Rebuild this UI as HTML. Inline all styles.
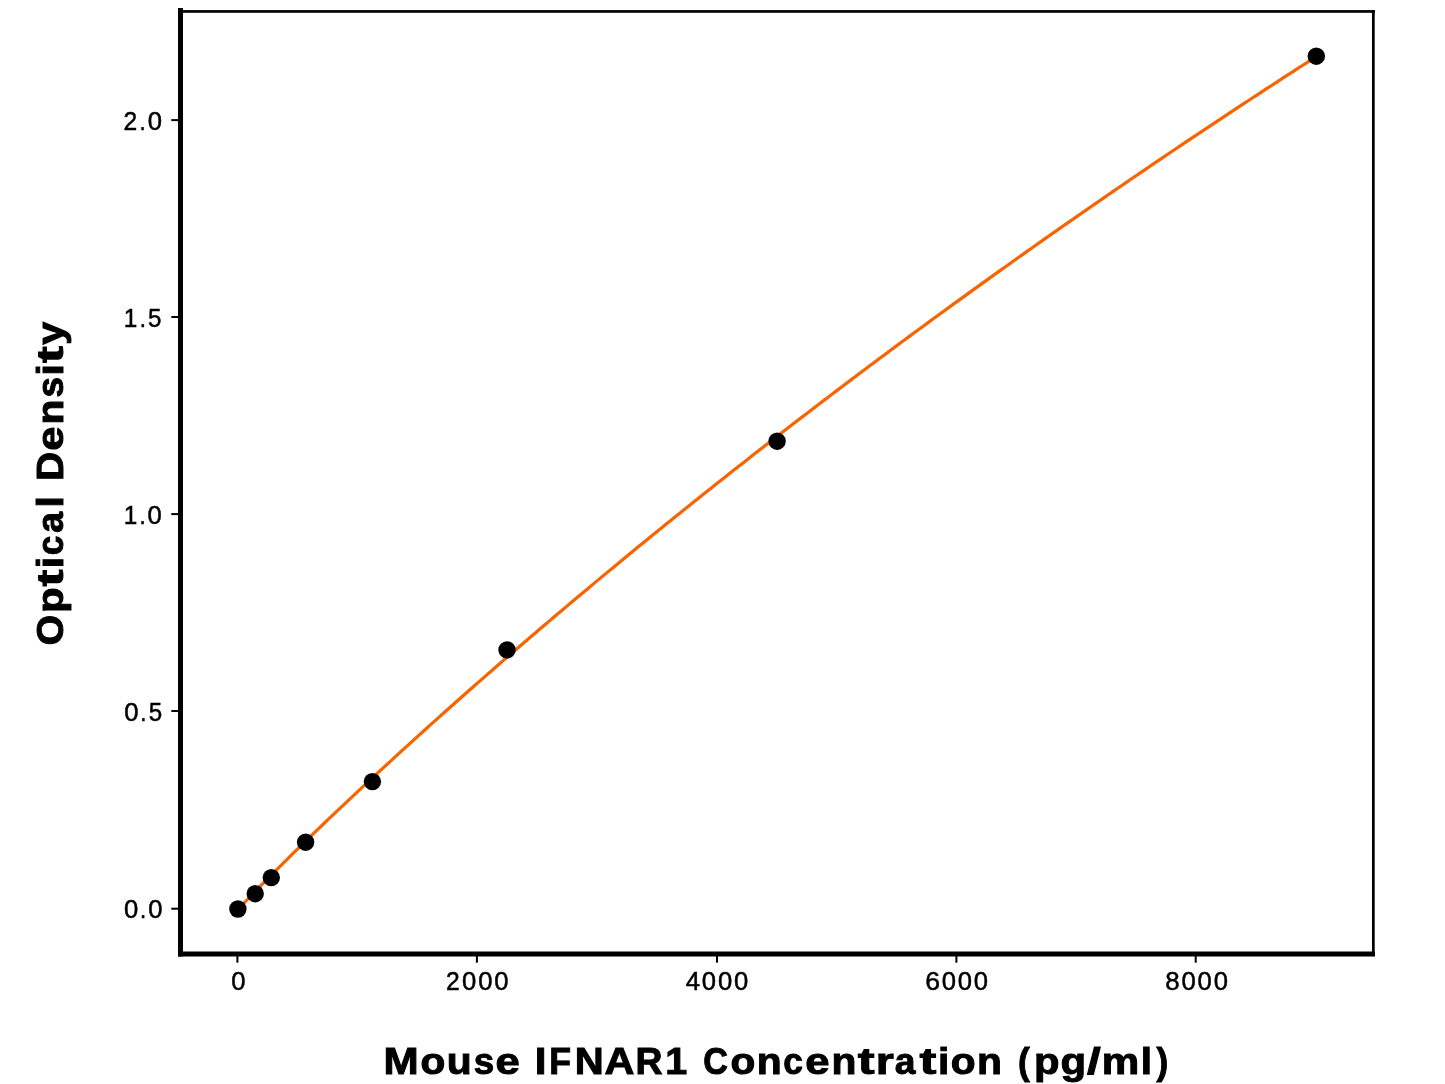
<!DOCTYPE html>
<html><head><meta charset="utf-8"><title>Mouse IFNAR1 standard curve</title><style>
html,body{margin:0;padding:0;background:#fff;width:1445px;height:1084px;overflow:hidden}
svg{display:block;will-change:transform}
text{font-family:"Liberation Sans",sans-serif;font-size:100px;fill:#000;stroke:#000}
.b text{font-weight:bold}
</style></head><body>
<svg width="1445" height="1084" viewBox="0 0 1445 1084">
<rect x="0" y="0" width="1445" height="1084" fill="#fff"/>
<g fill="#000">
<rect x="178" y="10.1" width="1197" height="2.7"/>
<rect x="1372" y="10.1" width="2.7" height="946"/>
<rect x="178" y="951.5" width="1197" height="5"/>
<rect x="178" y="8" width="5" height="948.5"/>
<rect x="171.3" y="907.70" width="9" height="2"/>
<rect x="171.3" y="710.00" width="9" height="2"/>
<rect x="171.3" y="513.10" width="9" height="2"/>
<rect x="171.3" y="316.00" width="9" height="2"/>
<rect x="171.3" y="119.10" width="9" height="2"/>
<rect x="236.40" y="954" width="2" height="8.7"/>
<rect x="475.90" y="954" width="2" height="8.7"/>
<rect x="716.00" y="954" width="2" height="8.7"/>
<rect x="955.40" y="954" width="2" height="8.7"/>
<rect x="1194.70" y="954" width="2" height="8.7"/>
</g>
<g>
<text y="0" transform="matrix(0.25338 0 0 0.25565 0 918.400)" stroke-width="1.965"><tspan x="489.30" textLength="56.31" lengthAdjust="spacingAndGlyphs">0</tspan><tspan x="552.98" textLength="24.29" lengthAdjust="spacingAndGlyphs">.</tspan><tspan x="584.68" textLength="56.31" lengthAdjust="spacingAndGlyphs">0</tspan></text>
<text y="0" transform="matrix(0.24654 0 0 0.25988 0 720.596)" stroke-width="1.975"><tspan x="503.57" textLength="57.87" lengthAdjust="spacingAndGlyphs">0</tspan><tspan x="569.01" textLength="24.97" lengthAdjust="spacingAndGlyphs">.</tspan><tspan x="602.90" textLength="54.47" lengthAdjust="spacingAndGlyphs">5</tspan></text>
<text y="0" transform="matrix(0.24760 0 0 0.25988 0 523.696)" stroke-width="1.971"><tspan x="499.54" textLength="54.68" lengthAdjust="spacingAndGlyphs">1</tspan><tspan x="563.65" textLength="24.86" lengthAdjust="spacingAndGlyphs">.</tspan><tspan x="596.09" textLength="57.63" lengthAdjust="spacingAndGlyphs">0</tspan></text>
<text y="0" transform="matrix(0.24041 0 0 0.25988 0 326.796)" stroke-width="1.999"><tspan x="515.17" textLength="56.31" lengthAdjust="spacingAndGlyphs">1</tspan><tspan x="581.20" textLength="25.61" lengthAdjust="spacingAndGlyphs">.</tspan><tspan x="615.95" textLength="55.86" lengthAdjust="spacingAndGlyphs">5</tspan></text>
<text y="0" transform="matrix(0.24882 0 0 0.25988 0 129.796)" stroke-width="1.966"><tspan x="496.10" textLength="55.07" lengthAdjust="spacingAndGlyphs">2</tspan><tspan x="561.14" textLength="24.74" lengthAdjust="spacingAndGlyphs">.</tspan><tspan x="593.43" textLength="57.34" lengthAdjust="spacingAndGlyphs">0</tspan></text>
<text y="0" transform="matrix(0.25655 0 0 0.25988 0 990.496)" stroke-width="1.936"><tspan x="901.82" textLength="55.62" lengthAdjust="spacingAndGlyphs">0</tspan></text>
<text y="0" transform="matrix(0.25410 0 0 0.25988 0 990.496)" stroke-width="1.946"><tspan x="1754.98" textLength="53.93" lengthAdjust="spacingAndGlyphs">2</tspan><tspan x="1818.60" textLength="56.15" lengthAdjust="spacingAndGlyphs">0</tspan><tspan x="1882.02" textLength="56.15" lengthAdjust="spacingAndGlyphs">0</tspan><tspan x="1945.44" textLength="56.15" lengthAdjust="spacingAndGlyphs">0</tspan></text>
<text y="0" transform="matrix(0.25670 0 0 0.25988 0 990.496)" stroke-width="1.936"><tspan x="2670.96" textLength="55.71" lengthAdjust="spacingAndGlyphs">4</tspan><tspan x="2733.82" textLength="55.58" lengthAdjust="spacingAndGlyphs">0</tspan><tspan x="2796.60" textLength="55.58" lengthAdjust="spacingAndGlyphs">0</tspan><tspan x="2859.38" textLength="55.58" lengthAdjust="spacingAndGlyphs">0</tspan></text>
<text y="0" transform="matrix(0.25873 0 0 0.25988 0 990.496)" stroke-width="1.928"><tspan x="3576.23" textLength="57.07" lengthAdjust="spacingAndGlyphs">6</tspan><tspan x="3639.47" textLength="55.15" lengthAdjust="spacingAndGlyphs">0</tspan><tspan x="3701.76" textLength="55.15" lengthAdjust="spacingAndGlyphs">0</tspan><tspan x="3764.04" textLength="55.15" lengthAdjust="spacingAndGlyphs">0</tspan></text>
<text y="0" transform="matrix(0.25722 0 0 0.25988 0 990.496)" stroke-width="1.934"><tspan x="4530.17" textLength="56.05" lengthAdjust="spacingAndGlyphs">8</tspan><tspan x="4593.12" textLength="55.47" lengthAdjust="spacingAndGlyphs">0</tspan><tspan x="4655.77" textLength="55.47" lengthAdjust="spacingAndGlyphs">0</tspan><tspan x="4718.43" textLength="55.47" lengthAdjust="spacingAndGlyphs">0</tspan></text>
</g>
<polyline points="237.40,910.35 241.91,905.33 246.43,900.52 250.94,895.79 255.46,891.12 259.97,886.49 264.49,881.90 269.00,877.34 273.51,872.80 278.03,868.29 282.54,863.81 287.06,859.34 291.57,854.90 296.08,850.47 300.60,846.06 305.11,841.67 309.63,837.29 314.14,832.93 318.66,828.59 323.17,824.26 327.68,819.94 332.20,815.64 336.71,811.35 341.23,807.07 345.74,802.81 350.26,798.56 354.77,794.32 359.28,790.09 363.80,785.87 368.31,781.67 372.83,777.48 377.34,773.29 381.86,769.12 386.37,764.96 390.88,760.81 395.40,756.67 399.91,752.54 404.43,748.42 408.94,744.31 413.45,740.22 417.97,736.13 422.48,732.05 427.00,727.98 431.51,723.92 436.03,719.86 440.54,715.82 445.05,711.79 449.57,707.77 454.08,703.75 458.60,699.75 463.11,695.75 467.63,691.76 472.14,687.78 476.65,683.81 481.17,679.85 485.68,675.89 490.20,671.95 494.71,668.01 499.23,664.08 503.74,660.16 508.25,656.25 512.77,652.34 517.28,648.45 521.80,644.56 526.31,640.68 530.82,636.81 535.34,632.94 539.85,629.08 544.37,625.24 548.88,621.39 553.40,617.56 557.91,613.73 562.42,609.92 566.94,606.10 571.45,602.30 575.97,598.50 580.48,594.72 585.00,590.93 589.51,587.16 594.02,583.39 598.54,579.63 603.05,575.88 607.57,572.13 612.08,568.40 616.59,564.66 621.11,560.94 625.62,557.22 630.14,553.51 634.65,549.81 639.17,546.11 643.68,542.42 648.19,538.74 652.71,535.06 657.22,531.40 661.74,527.73 666.25,524.08 670.77,520.43 675.28,516.79 679.79,513.15 684.31,509.52 688.82,505.90 693.34,502.28 697.85,498.67 702.37,495.07 706.88,491.47 711.39,487.88 715.91,484.30 720.42,480.72 724.94,477.15 729.45,473.58 733.96,470.03 738.48,466.47 742.99,462.93 747.51,459.39 752.02,455.85 756.54,452.33 761.05,448.80 765.56,445.29 770.08,441.78 774.59,438.28 779.11,434.78 783.62,431.29 788.14,427.80 792.65,424.32 797.16,420.85 801.68,417.38 806.19,413.92 810.71,410.47 815.22,407.02 819.74,403.57 824.25,400.14 828.76,396.70 833.28,393.28 837.79,389.86 842.31,386.44 846.82,383.03 851.33,379.63 855.85,376.23 860.36,372.84 864.88,369.45 869.39,366.07 873.91,362.70 878.42,359.33 882.93,355.97 887.45,352.61 891.96,349.25 896.48,345.91 900.99,342.56 905.51,339.23 910.02,335.90 914.53,332.57 919.05,329.25 923.56,325.94 928.08,322.63 932.59,319.32 937.11,316.03 941.62,312.73 946.13,309.44 950.65,306.16 955.16,302.88 959.68,299.61 964.19,296.35 968.70,293.08 973.22,289.83 977.73,286.58 982.25,283.33 986.76,280.09 991.28,276.86 995.79,273.62 1000.30,270.40 1004.82,267.18 1009.33,263.96 1013.85,260.75 1018.36,257.55 1022.88,254.35 1027.39,251.15 1031.90,247.97 1036.42,244.78 1040.93,241.60 1045.45,238.43 1049.96,235.26 1054.47,232.09 1058.99,228.93 1063.50,225.78 1068.02,222.63 1072.53,219.48 1077.05,216.34 1081.56,213.20 1086.07,210.07 1090.59,206.95 1095.10,203.83 1099.62,200.71 1104.13,197.60 1108.65,194.49 1113.16,191.39 1117.67,188.29 1122.19,185.20 1126.70,182.11 1131.22,179.03 1135.73,175.95 1140.25,172.88 1144.76,169.81 1149.27,166.75 1153.79,163.69 1158.30,160.63 1162.82,157.58 1167.33,154.53 1171.84,151.49 1176.36,148.46 1180.87,145.42 1185.39,142.40 1189.90,139.37 1194.42,136.36 1198.93,133.34 1203.44,130.33 1207.96,127.33 1212.47,124.33 1216.99,121.33 1221.50,118.34 1226.02,115.35 1230.53,112.37 1235.04,109.39 1239.56,106.42 1244.07,103.45 1248.59,100.49 1253.10,97.53 1257.62,94.57 1262.13,91.62 1266.64,88.67 1271.16,85.73 1275.67,82.79 1280.19,79.85 1284.70,76.92 1289.21,74.00 1293.73,71.08 1298.24,68.16 1302.76,65.25 1307.27,62.34 1311.79,59.43 1316.30,56.53" fill="none" stroke="#f86400" stroke-width="3.2" stroke-linejoin="round"/>
<g fill="#000">
<circle cx="237.9" cy="909.0" r="8.7"/>
<circle cx="255.2" cy="893.7" r="8.7"/>
<circle cx="271.3" cy="877.6" r="8.7"/>
<circle cx="305.6" cy="842.2" r="8.7"/>
<circle cx="372.4" cy="781.6" r="8.7"/>
<circle cx="507.0" cy="649.9" r="8.7"/>
<circle cx="777.1" cy="441.2" r="8.7"/>
<circle cx="1316.3" cy="56.2" r="8.7"/>
</g>
<g class="b">
<text y="0" transform="matrix(0.40555 0 0 0.37791 0 1074.300)" stroke-width="2.553"><tspan x="945.85" textLength="86.76" lengthAdjust="spacingAndGlyphs">M</tspan><tspan x="1036.75" textLength="61.16" lengthAdjust="spacingAndGlyphs">o</tspan><tspan x="1101.47" textLength="61.45" lengthAdjust="spacingAndGlyphs">u</tspan><tspan x="1168.16" textLength="50.51" lengthAdjust="spacingAndGlyphs">s</tspan><tspan x="1221.59" textLength="59.91" lengthAdjust="spacingAndGlyphs">e</tspan> <tspan x="1318.66" textLength="28.91" lengthAdjust="spacingAndGlyphs">I</tspan><tspan x="1354.27" textLength="53.74" lengthAdjust="spacingAndGlyphs">F</tspan><tspan x="1416.96" textLength="71.48" lengthAdjust="spacingAndGlyphs">N</tspan><tspan x="1490.66" textLength="73.71" lengthAdjust="spacingAndGlyphs">A</tspan><tspan x="1566.94" textLength="66.71" lengthAdjust="spacingAndGlyphs">R</tspan><tspan x="1640.43" textLength="54.10" lengthAdjust="spacingAndGlyphs">1</tspan> <tspan x="1734.17" textLength="60.87" lengthAdjust="spacingAndGlyphs">C</tspan><tspan x="1801.22" textLength="61.16" lengthAdjust="spacingAndGlyphs">o</tspan><tspan x="1866.08" textLength="61.45" lengthAdjust="spacingAndGlyphs">n</tspan><tspan x="1931.61" textLength="48.30" lengthAdjust="spacingAndGlyphs">c</tspan><tspan x="1985.82" textLength="59.91" lengthAdjust="spacingAndGlyphs">e</tspan><tspan x="2050.17" textLength="61.45" lengthAdjust="spacingAndGlyphs">n</tspan><tspan x="2114.80" textLength="41.61" lengthAdjust="spacingAndGlyphs">t</tspan><tspan x="2159.73" textLength="44.52" lengthAdjust="spacingAndGlyphs">r</tspan><tspan x="2206.57" textLength="51.00" lengthAdjust="spacingAndGlyphs">a</tspan><tspan x="2267.61" textLength="41.61" lengthAdjust="spacingAndGlyphs">t</tspan><tspan x="2313.08" textLength="27.87" lengthAdjust="spacingAndGlyphs">i</tspan><tspan x="2344.19" textLength="61.16" lengthAdjust="spacingAndGlyphs">o</tspan><tspan x="2409.06" textLength="61.45" lengthAdjust="spacingAndGlyphs">n</tspan> <tspan x="2509.95" textLength="28.97" lengthAdjust="spacingAndGlyphs">(</tspan><tspan x="2549.73" textLength="63.06" lengthAdjust="spacingAndGlyphs">p</tspan><tspan x="2615.12" textLength="63.18" lengthAdjust="spacingAndGlyphs">g</tspan><tspan x="2680.46" textLength="33.82" lengthAdjust="spacingAndGlyphs">/</tspan><tspan x="2716.40" textLength="92.53" lengthAdjust="spacingAndGlyphs">m</tspan><tspan x="2813.08" textLength="27.87" lengthAdjust="spacingAndGlyphs">l</tspan><tspan x="2851.46" textLength="28.97" lengthAdjust="spacingAndGlyphs">)</tspan></text>
<text y="0" transform="matrix(0 -0.40863 0.37355 0 63.300 645.919)" stroke-width="2.557"><tspan x="1.88" textLength="74.62" lengthAdjust="spacingAndGlyphs">O</tspan><tspan x="80.53" textLength="62.59" lengthAdjust="spacingAndGlyphs">p</tspan><tspan x="145.20" textLength="41.30" lengthAdjust="spacingAndGlyphs">t</tspan><tspan x="190.34" textLength="27.66" lengthAdjust="spacingAndGlyphs">i</tspan><tspan x="221.72" textLength="47.94" lengthAdjust="spacingAndGlyphs">c</tspan><tspan x="277.04" textLength="50.61" lengthAdjust="spacingAndGlyphs">a</tspan><tspan x="338.71" textLength="27.66" lengthAdjust="spacingAndGlyphs">l</tspan> <tspan x="403.41" textLength="71.55" lengthAdjust="spacingAndGlyphs">D</tspan><tspan x="477.85" textLength="59.46" lengthAdjust="spacingAndGlyphs">e</tspan><tspan x="541.71" textLength="60.98" lengthAdjust="spacingAndGlyphs">n</tspan><tspan x="607.75" textLength="50.13" lengthAdjust="spacingAndGlyphs">s</tspan><tspan x="661.78" textLength="27.66" lengthAdjust="spacingAndGlyphs">i</tspan><tspan x="692.27" textLength="41.30" lengthAdjust="spacingAndGlyphs">t</tspan><tspan x="736.95" textLength="56.16" lengthAdjust="spacingAndGlyphs">y</tspan></text>
</g>
</svg>
</body></html>
